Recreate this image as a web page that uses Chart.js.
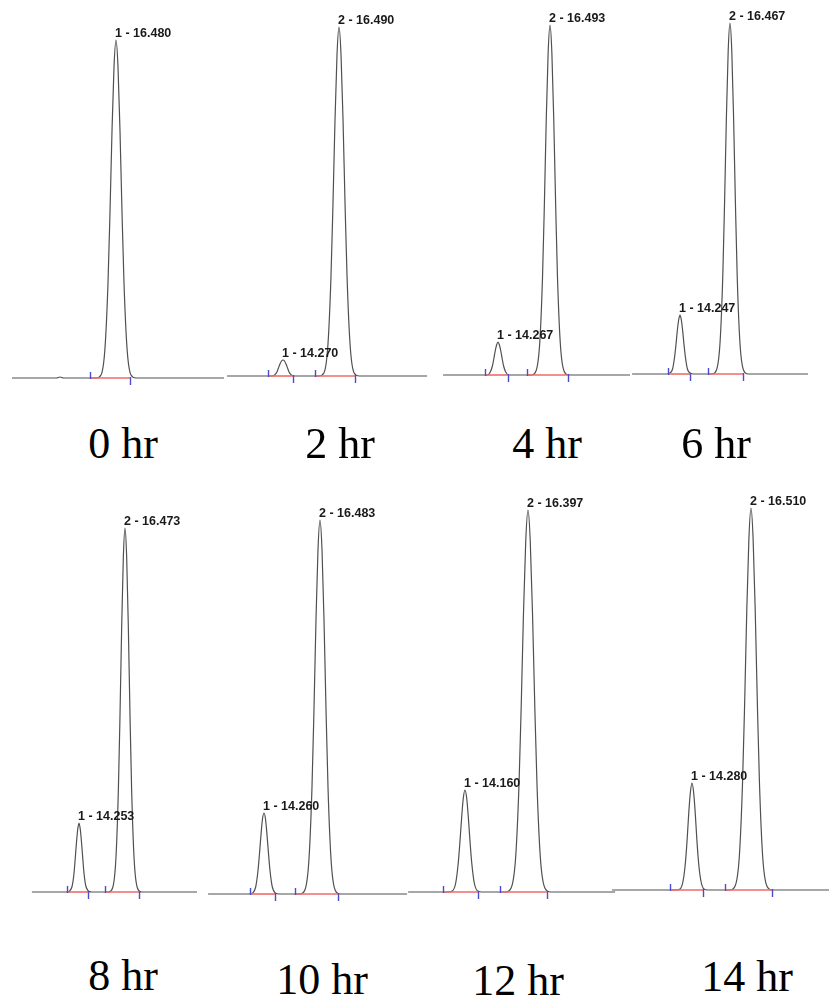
<!DOCTYPE html>
<html>
<head>
<meta charset="utf-8">
<script src="https://cdn.jsdelivr.net/npm/chart.js@4.4.1/dist/chart.umd.min.js"></script>
<style>
  html, body { margin: 0; padding: 0; background: #fff; }
  body { width: 829px; height: 996px; position: relative; overflow: hidden; }
  canvas.panel { position: absolute; }
  .hr { position: absolute; width: 160px; text-align: center; font-family: "Liberation Serif", "Times New Roman", serif;
        font-size: 44px; line-height: 44px; color: #000; white-space: nowrap; }
</style>
</head>
<body>
<script>
// ---------------- DATA ----------------
const timePoints = ["0 hr", "2 hr", "4 hr", "6 hr", "8 hr", "10 hr", "12 hr", "14 hr"];

// retention times (min) of the labelled peaks
const rt_0hr  = [16.480];
const rt_2hr  = [14.270, 16.490];
const rt_4hr  = [14.267, 16.493];
const rt_6hr  = [14.247, 16.467];
const rt_8hr  = [14.253, 16.473];
const rt_10hr = [14.260, 16.483];
const rt_12hr = [14.160, 16.397];
const rt_14hr = [14.280, 16.510];

// peak numbers printed in the labels
const peakNo_0hr = [1];
const peakNo_2to14hr = [1, 2];

// chromatogram traces: time (min) and signal (mAU)
const time_0hr   = [12.32, 14.10, 14.24, 14.38, 15.68, 15.88, 16.04, 16.16, 16.24, 16.32, 16.40, 16.48, 16.56, 16.64, 16.72, 16.80, 16.92, 17.08, 17.28, 20.80];
const signal_0hr = [0, 0, 1, 0, 0, 3, 30, 95, 166, 247, 311, 338, 311, 247, 166, 95, 30, 3, 0, 0];

const time_2hr   = [12.05, 13.67, 13.82, 13.94, 14.03, 14.09, 14.15, 14.21, 14.27, 14.33, 14.39, 14.45, 14.51, 14.60, 14.72, 14.87, 15.69, 15.89, 16.05, 16.17, 16.25, 16.33, 16.41, 16.49, 16.57, 16.65, 16.73, 16.81, 16.93, 17.09, 17.29, 19.98];
const signal_2hr = [0, 0, 0, 1, 4, 8, 12, 15, 16, 15, 12, 8, 4, 1, 0, 0, 0, 3, 31, 98, 171, 255, 321, 349, 321, 255, 171, 98, 31, 3, 0, 0];

const time_4hr   = [11.91, 13.667, 13.817, 13.937, 14.027, 14.087, 14.147, 14.207, 14.267, 14.327, 14.387, 14.447, 14.507, 14.597, 14.717, 14.867, 15.693, 15.893, 16.053, 16.173, 16.253, 16.333, 16.413, 16.493, 16.573, 16.653, 16.733, 16.813, 16.933, 17.093, 17.293, 19.92];
const signal_4hr = [0, 0, 0, 3, 9, 16, 24, 30, 33, 30, 24, 16, 9, 3, 0, 0, 0, 4, 32, 98, 172, 256, 322, 350, 322, 256, 172, 98, 32, 4, 0, 0];

const time_6hr   = [12.12, 13.647, 13.797, 13.917, 14.007, 14.067, 14.127, 14.187, 14.247, 14.307, 14.367, 14.427, 14.487, 14.577, 14.697, 14.847, 15.667, 15.867, 16.027, 16.147, 16.227, 16.307, 16.387, 16.467, 16.547, 16.627, 16.707, 16.787, 16.907, 17.067, 17.267, 19.93];
const signal_6hr = [0, 0, 1, 5, 17, 29, 43, 54, 59, 54, 43, 29, 17, 5, 1, 0, 0, 4, 32, 98, 172, 256, 323, 351, 323, 256, 172, 98, 32, 4, 0, 0];

const time_8hr   = [11.98, 13.653, 13.803, 13.923, 14.013, 14.073, 14.133, 14.193, 14.253, 14.313, 14.373, 14.433, 14.493, 14.583, 14.703, 14.853, 15.673, 15.873, 16.033, 16.153, 16.233, 16.313, 16.393, 16.473, 16.553, 16.633, 16.713, 16.793, 16.913, 17.073, 17.273, 19.95];
const signal_8hr = [0, 0, 1, 6, 19, 34, 50, 63, 69, 63, 50, 34, 19, 6, 1, 0, 0, 4, 33, 102, 178, 266, 335, 364, 335, 266, 178, 102, 33, 4, 0, 0];

const time_10hr   = [12.04, 13.66, 13.81, 13.93, 14.02, 14.08, 14.14, 14.20, 14.26, 14.32, 14.38, 14.44, 14.50, 14.59, 14.71, 14.86, 15.683, 15.883, 16.043, 16.163, 16.243, 16.323, 16.403, 16.483, 16.563, 16.643, 16.723, 16.803, 16.923, 17.083, 17.283, 19.94];
const signal_10hr = [0, 0, 1, 7, 23, 40, 59, 75, 81, 75, 59, 40, 23, 7, 1, 0, 0, 4, 34, 105, 183, 273, 344, 374, 344, 273, 183, 105, 34, 4, 0, 0];

const time_12hr   = [12.14, 13.56, 13.71, 13.83, 13.92, 13.98, 14.04, 14.10, 14.16, 14.22, 14.28, 14.34, 14.40, 14.49, 14.61, 14.76, 15.597, 15.797, 15.957, 16.077, 16.157, 16.237, 16.317, 16.397, 16.477, 16.557, 16.637, 16.717, 16.837, 16.997, 17.197, 19.49];
const signal_12hr = [0, 0, 1, 9, 29, 50, 74, 94, 102, 94, 74, 50, 29, 9, 1, 0, 0, 4, 34, 107, 187, 279, 351, 382, 351, 279, 187, 107, 34, 4, 0, 0];

const time_14hr   = [11.26, 13.68, 13.83, 13.95, 14.04, 14.10, 14.16, 14.22, 14.28, 14.34, 14.40, 14.46, 14.52, 14.61, 14.73, 14.88, 15.71, 15.91, 16.07, 16.19, 16.27, 16.35, 16.43, 16.51, 16.59, 16.67, 16.75, 16.83, 16.95, 17.11, 17.31, 19.46];
const signal_14hr = [0, 0, 1, 10, 30, 52, 78, 98, 107, 98, 78, 52, 30, 10, 1, 0, 0, 4, 34, 107, 187, 279, 351, 382, 351, 279, 187, 107, 34, 4, 0, 0];

// integration windows (start / end, min)
const intStart_0hr = [15.44],        intEnd_0hr = [17.04];
const intStart_2hr = [13.68, 15.54], intEnd_2hr = [14.67, 17.12];
const intStart_4hr = [13.71, 15.51], intEnd_4hr = [14.70, 17.26];
const intStart_6hr = [13.71, 15.49], intEnd_6hr = [14.69, 17.05];
const intStart_8hr = [13.67, 15.51], intEnd_8hr = [14.69, 17.15];
const intStart_10hr = [13.70, 15.49], intEnd_10hr = [14.70, 17.20];
const intStart_12hr = [13.38, 15.40], intEnd_12hr = [14.62, 17.07];
const intStart_14hr = [13.45, 15.53], intEnd_14hr = [14.70, 17.30];

// ---------------- LAYOUT (positions / axis windows) ----------------
const layout = [
  { left: 0,   top: 0,   width: 229, height: 400, xmin: 11.84,  xmax: 21.0,   ymin: -22, ymax: 378, labelX: 123, labelTop: 422 },
  { left: 226, top: 0,   width: 204, height: 400, xmin: 12.011, xmax: 20.096, ymin: -24, ymax: 376, labelX: 340, labelTop: 422 },
  { left: 440, top: 0,   width: 192, height: 400, xmin: 11.784, xmax: 20.003, ymin: -25, ymax: 375, labelX: 547, labelTop: 422 },
  { left: 630, top: 0,   width: 180, height: 400, xmin: 12.027, xmax: 20.02,  ymin: -26, ymax: 374, labelX: 716, labelTop: 422 },
  { left: 0,   top: 480, width: 205, height: 430, xmin: 10.44,  xmax: 20.334, ymin: -18, ymax: 412, labelX: 123, labelTop: 954 },
  { left: 205, top: 480, width: 205, height: 430, xmin: 11.918, xmax: 20.056, ymin: -16, ymax: 414, labelX: 322, labelTop: 958 },
  { left: 400, top: 480, width: 220, height: 430, xmin: 11.852, xmax: 19.664, ymin: -18, ymax: 412, labelX: 518, labelTop: 959 },
  { left: 610, top: 480, width: 219, height: 430, xmin: 11.181, xmax: 19.458, ymin: -20, ymax: 410, labelX: 747, labelTop: 955 }
];

const panelData = [
  { time: time_0hr,  signal: signal_0hr,  rt: rt_0hr,  peakNo: peakNo_0hr,     start: intStart_0hr,  end: intEnd_0hr },
  { time: time_2hr,  signal: signal_2hr,  rt: rt_2hr,  peakNo: peakNo_2to14hr, start: intStart_2hr,  end: intEnd_2hr },
  { time: time_4hr,  signal: signal_4hr,  rt: rt_4hr,  peakNo: peakNo_2to14hr, start: intStart_4hr,  end: intEnd_4hr },
  { time: time_6hr,  signal: signal_6hr,  rt: rt_6hr,  peakNo: peakNo_2to14hr, start: intStart_6hr,  end: intEnd_6hr },
  { time: time_8hr,  signal: signal_8hr,  rt: rt_8hr,  peakNo: peakNo_2to14hr, start: intStart_8hr,  end: intEnd_8hr },
  { time: time_10hr, signal: signal_10hr, rt: rt_10hr, peakNo: peakNo_2to14hr, start: intStart_10hr, end: intEnd_10hr },
  { time: time_12hr, signal: signal_12hr, rt: rt_12hr, peakNo: peakNo_2to14hr, start: intStart_12hr, end: intEnd_12hr },
  { time: time_14hr, signal: signal_14hr, rt: rt_14hr, peakNo: peakNo_2to14hr, start: intStart_14hr, end: intEnd_14hr }
];

// ---------------- PLUGIN: integration ticks + peak labels ----------------
const marksPlugin = {
  id: 'marks',
  afterDatasetsDraw(chart, args, opts) {
    const d = opts.panel;
    const xs = chart.scales.x, ys = chart.scales.y;
    const ctx = chart.ctx;
    const y0 = ys.getPixelForValue(0);
    ctx.save();
    ctx.strokeStyle = '#4b4bd0';
    ctx.lineWidth = 1.4;
    d.start.forEach(t => {
      const x = Math.round(xs.getPixelForValue(t)) + 0.5;
      ctx.beginPath(); ctx.moveTo(x, y0 - 6); ctx.lineTo(x, y0 + 1); ctx.stroke();
    });
    d.end.forEach(t => {
      const x = Math.round(xs.getPixelForValue(t)) + 0.5;
      ctx.beginPath(); ctx.moveTo(x, y0 - 1); ctx.lineTo(x, y0 + 7); ctx.stroke();
    });
    ctx.fillStyle = '#1a1a1a';
    ctx.font = 'bold 12.5px "Liberation Sans", Arial, sans-serif';
    ctx.textAlign = 'left';
    ctx.textBaseline = 'alphabetic';
    d.rt.forEach((rt, i) => {
      let top = 0;
      d.time.forEach((t, k) => { if (Math.abs(t - rt) < 0.05 && d.signal[k] > top) top = d.signal[k]; });
      const x = xs.getPixelForValue(rt);
      const y = ys.getPixelForValue(top);
      ctx.fillText(d.peakNo[i] + ' - ' + rt.toFixed(3), x - 1, y - 3);
    });
    ctx.restore();
  }
};

// ---------------- BUILD ----------------
timePoints.forEach((label, p) => {
  const L = layout[p], d = panelData[p];
  const cv = document.createElement('canvas');
  cv.className = 'panel';
  cv.width = L.width; cv.height = L.height;
  cv.style.left = L.left + 'px'; cv.style.top = L.top + 'px';
  cv.style.width = L.width + 'px'; cv.style.height = L.height + 'px';
  document.body.appendChild(cv);

  const datasets = [];
  d.start.forEach((s, i) => {
    datasets.push({
      data: [{ x: s, y: 0 }, { x: d.end[i], y: 0 }],
      borderColor: '#f06a6a', borderWidth: 1.6, pointRadius: 0, fill: false, order: 0
    });
  });
  datasets.push({
    data: d.time.map((t, i) => ({ x: t, y: d.signal[i] })),
    borderColor: '#505050', borderWidth: 1.2, pointRadius: 0, fill: false,
    cubicInterpolationMode: 'monotone', order: 1
  });

  new Chart(cv.getContext('2d'), {
    type: 'line',
    data: { datasets },
    options: {
      responsive: false, animation: false, events: [],
      layout: { padding: 0 },
      plugins: { legend: { display: false }, tooltip: { enabled: false }, title: { display: false },
                 marks: { panel: d } },
      scales: {
        x: { type: 'linear', min: L.xmin, max: L.xmax, display: false },
        y: { type: 'linear', min: L.ymin, max: L.ymax, display: false }
      }
    },
    plugins: [marksPlugin]
  });

  const div = document.createElement('div');
  div.className = 'hr';
  div.textContent = label;
  div.style.left = (L.labelX - 80) + 'px';
  div.style.top = L.labelTop + 'px';
  document.body.appendChild(div);
});
</script>
</body>
</html>
